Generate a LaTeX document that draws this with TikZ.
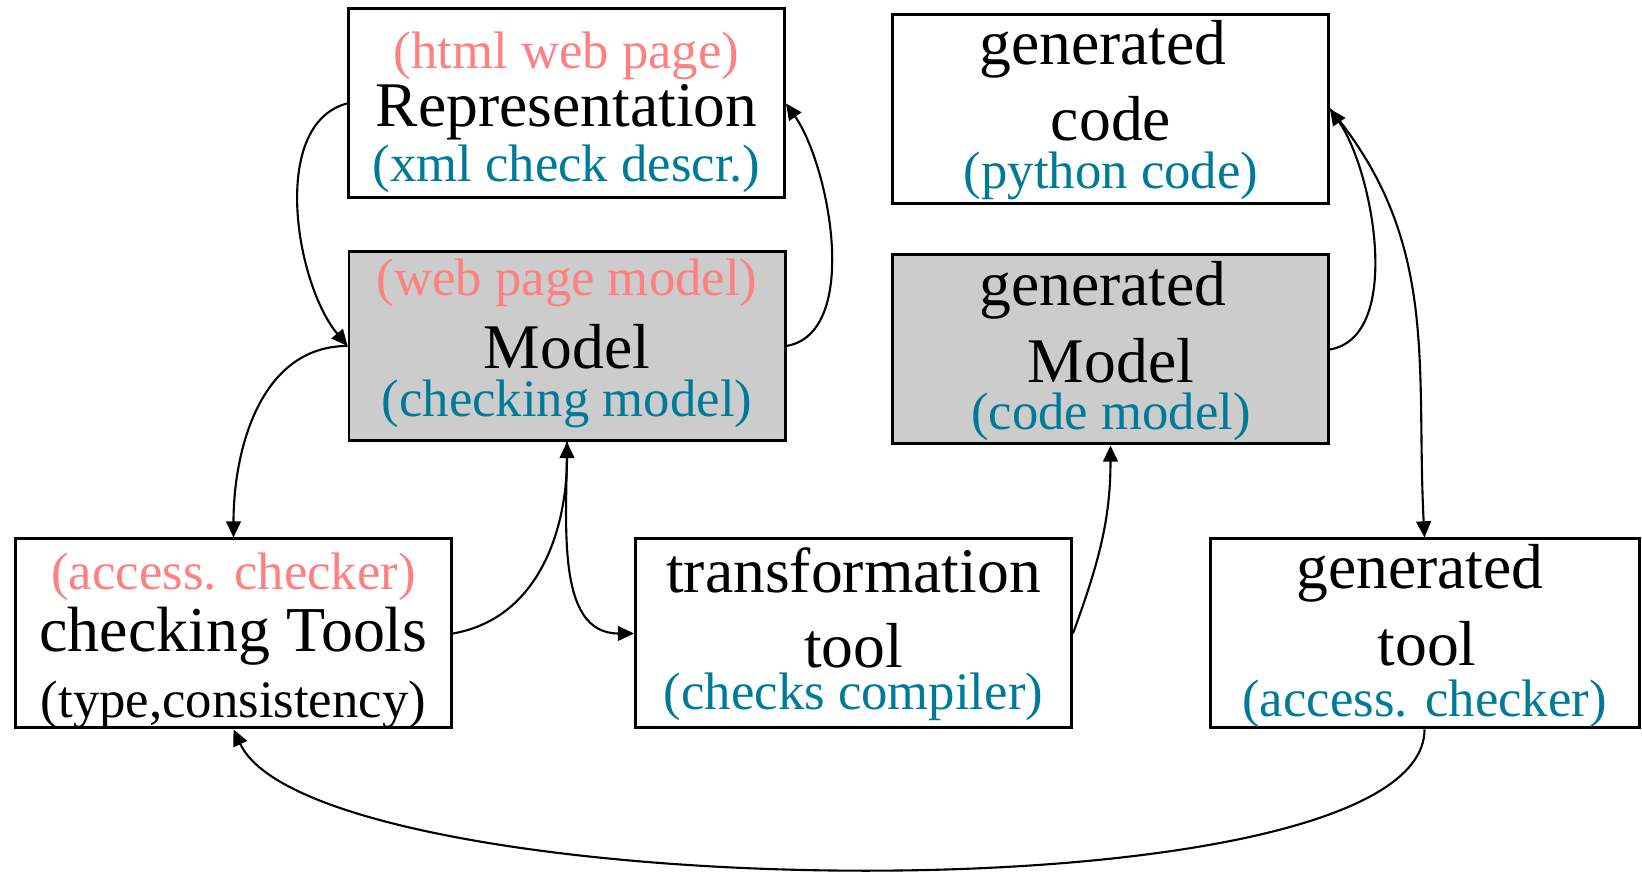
\documentclass[tikz,border=0pt]{standalone}
\usepackage{fontspec}
\setmainfont{Liberation Serif}
\usetikzlibrary{arrows.meta}
\definecolor{pinktxt}{RGB}{255,128,128}
\definecolor{bluetxt}{RGB}{0,122,153}

\begin{document}
\begin{tikzpicture}[
  plainbox/.style={rectangle,draw=black,line width=0.85pt,
                   minimum width=4.36cm,minimum height=1.89cm,inner sep=0pt},
  modelbox/.style={plainbox,fill=black!20},
  mainline/.style={anchor=base,inner sep=0pt,font=\fontsize{18.1}{20}\selectfont},
  blueline/.style={anchor=base,inner sep=0pt,font=\fontsize{15}{17}\selectfont,text=bluetxt},
  pinkline/.style={blueline,text=pinktxt},
  arr/.style={-{Triangle[length=4.6pt,width=4.2pt]},line width=0.6pt}]

  \useasboundingbox (0,0) rectangle (16.42,8.76);

  % boxes
  \node[plainbox] (Rep)    at (5.665,7.725)  {};
  \node[plainbox] (Code)   at (11.105,7.67)  {};
  \node[modelbox] (Model)  at (5.67,5.30)    {};
  \node[modelbox] (GModel) at (11.105,5.265) {};
  \node[plainbox] (Tools)  at (2.335,2.425)  {};
  \node[plainbox] (Trans)  at (8.535,2.425)  {};
  \node[plainbox,minimum width=4.29cm] (GTool) at (14.245,2.425) {};

  % texts
  \node[pinkline] (RepA) at (5.665,8.07) {(html web page)};
  \node[mainline] (RepB) at (5.665,7.49) {Representation};
  \node[blueline] (RepC) at (5.665,6.94) {(xml check descr.)};

  \node[mainline] (CodeA) at (11.03,8.11) {generated};
  \node[mainline] (CodeB) at (11.11,7.35) {code};
  \node[blueline] (CodeC) at (11.11,6.87) {(python code)};

  \node[pinkline] (ModelA) at (5.67,5.80) {(web page model)};
  \node[mainline] (ModelB) at (5.67,5.07) {Model};
  \node[blueline] (ModelC) at (5.67,4.59) {(checking model)};

  \node[mainline] (GModelA) at (11.03,5.70) {generated};
  \node[mainline] (GModelB) at (11.11,4.93) {Model};
  \node[blueline] (GModelC) at (11.11,4.46) {(code model)};

  \node[pinkline] (ToolsA) at (2.335,2.86) {(access. checker)};
  \node[mainline,font=\fontsize{18.2}{20}\selectfont] (ToolsB) at (2.335,2.24) {checking Tools};
  \node[blueline,text=black] (ToolsC) at (2.335,1.58) {(type,consistency)};

  \node[mainline] (TransA) at (8.535,2.83) {transformation};
  \node[mainline] (TransB) at (8.535,2.08) {tool};
  \node[blueline] (TransC) at (8.535,1.66) {(checks compiler)};

  \node[mainline] (GToolA) at (14.20,2.87) {generated};
  \node[mainline] (GToolB) at (14.27,2.10) {tool};
  \node[blueline] (GToolC) at (14.245,1.59) {(access. checker)};

  % connectors
  \draw[arr] (Rep.west) to[out=195,in=130,looseness=0.85] (Model.west);
  \draw[arr] (Model.east) to[out=10,in=-55,looseness=0.8] (Rep.east);
  \draw[arr] (Model.west) to[out=180,in=90] (Tools.north);
  \draw[arr] (Tools.east) to[out=10,in=-90] (Model.south);
  \draw[arr] (Model.south) to[out=-90,in=180] (Trans.west);
  \draw[arr] (Trans.east) to[out=70,in=-90] (GModel.south);
  \draw[arr] (GModel.east) to[out=10,in=-55,looseness=0.8] (Code.east);
  \draw[arr] (Code.east) to[out=-50,in=93] (GTool.north);
  \draw[arr] (GTool.south) to[out=-90,in=-65,looseness=0.42] (Tools.south);
\end{tikzpicture}
\end{document}
